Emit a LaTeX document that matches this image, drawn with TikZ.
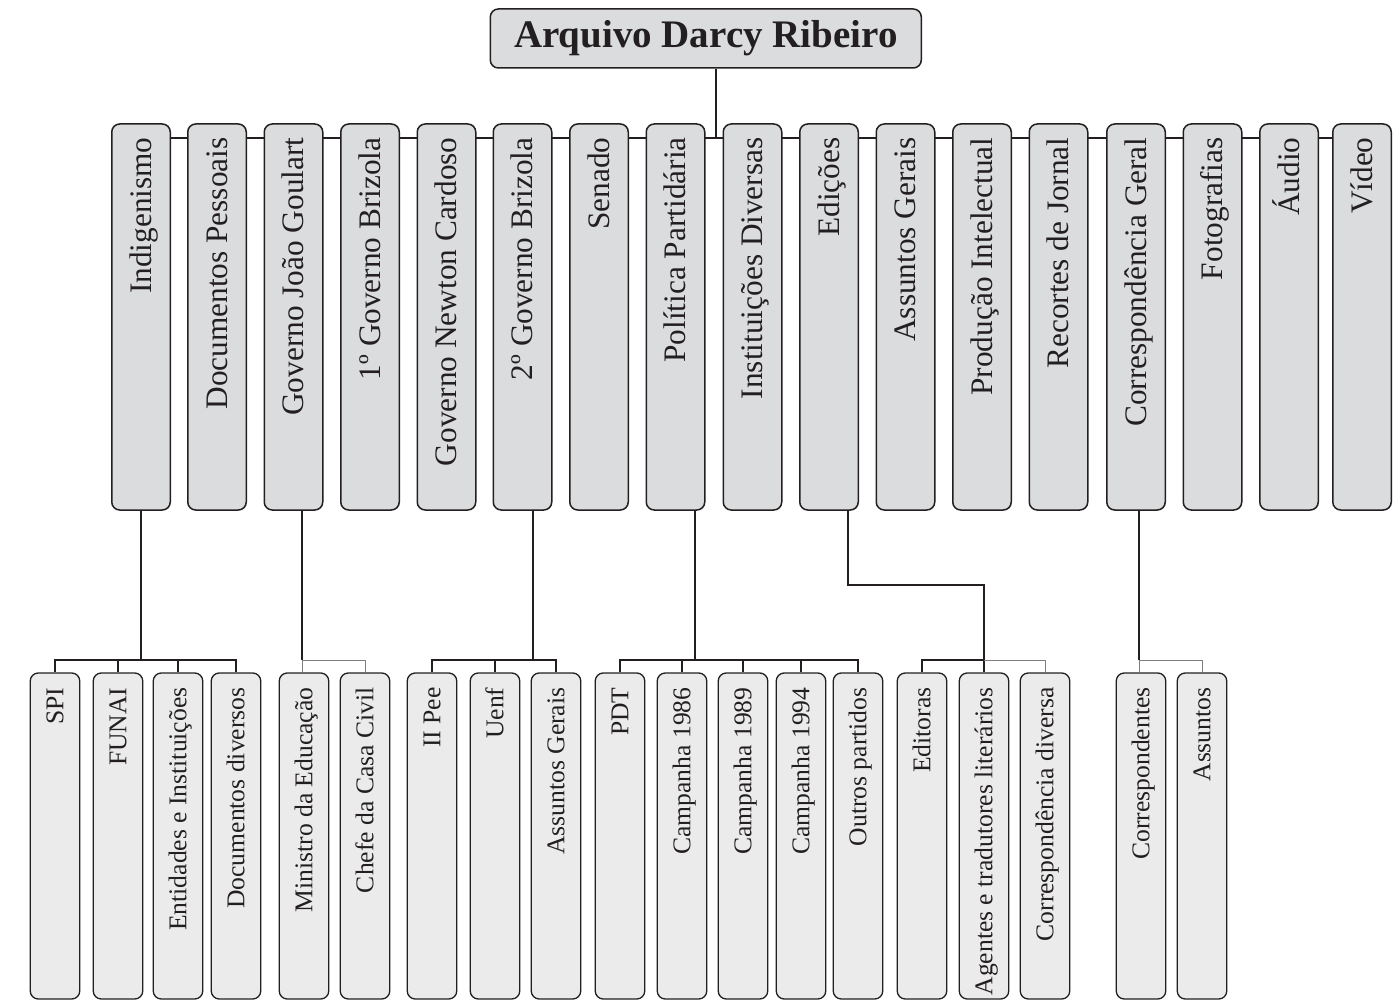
\documentclass[tikz,border=0pt]{standalone}
\usepackage{fontspec}
\setmainfont{Liberation Serif}
\usetikzlibrary{backgrounds}
\definecolor{ink}{HTML}{231F20}
\definecolor{boxA}{HTML}{DBDCDE}
\definecolor{boxB}{HTML}{EBEBEC}
\definecolor{thingray}{HTML}{7F7F7F}
\begin{document}
\begin{tikzpicture}[x=1pt,y=-1pt,
  topbox/.style={draw=ink, fill=boxA, line width=1.5pt, rounded corners=8pt, minimum width=431pt, minimum height=59pt, inner sep=0pt, font=\fontsize{39}{40}\selectfont\bfseries, text=ink},
  lvtwo/.style={draw=ink, fill=boxA, line width=1.5pt, rounded corners=8pt, minimum width=58.5pt, minimum height=386pt, inner sep=0pt},
  lvthree/.style={draw=ink, fill=boxB, line width=1.3pt, rounded corners=8pt, minimum width=49.5pt, minimum height=326pt, inner sep=0pt},
  txttwo/.style={rotate=90, anchor=east, inner sep=0pt, text height=20.7pt, text depth=0pt, font=\fontsize{31.3}{33}\selectfont, text=ink},
  txtthree/.style={rotate=90, anchor=east, inner sep=0pt, text height=16.9pt, text depth=0pt, font=\fontsize{25.6}{27}\selectfont, text=ink},
  link/.style={draw=ink, line width=1.8pt},
  thinlink/.style={draw=thingray, line width=1pt}]
\useasboundingbox (0,0) rectangle (1398,1000);

\node[topbox] (root) at (705.8,38.5) {Arquivo Darcy Ribeiro};

\foreach \i/\x/\t in {1/141/Indigenismo, 2/217/Documentos Pessoais, 3/293.5/Governo João Goulart,
  4/370/1º Governo Brizola, 5/446.5/Governo Newton Cardoso, 6/522.5/2º Governo Brizola,
  7/599/Senado, 8/675.5/Política Partidária, 9/752.5/Instituições Diversas, 10/829/Edições,
  11/905.5/Assuntos Gerais, 12/982/Produção Intelectual, 13/1058.5/Recortes de Jornal,
  14/1136/Correspondência Geral, 15/1212.5/Fotografias, 16/1289/Áudio, 17/1362/Vídeo}{
  \node[lvtwo] (b\i) at (\x,317) {};
  \node[txttwo] (t\i) at ([yshift=-14pt]b\i.north) {\t};
}

\foreach \i/\x/\t in {1/55/SPI, 2/118/FUNAI, 3/178/Entidades e Instituições, 4/236/Documentos diversos,
  5/304/Ministro da Educação, 6/365/Chefe da Casa Civil,
  7/432/II Pee, 8/495/Uenf, 9/556/Assuntos Gerais,
  10/620/PDT, 11/682/Campanha 1986, 12/743/Campanha 1989, 13/801/Campanha 1994, 14/858/Outros partidos,
  15/922/Editoras, 16/984/Agentes e tradutores literários, 17/1045/Correspondência diversa,
  18/1141/Correspondentes, 19/1202/Assuntos}{
  \node[lvthree] (c\i) at (\x,836) {};
  \node[txtthree] (u\i) at ([yshift=-15pt]c\i.north) {\t};
}

\begin{scope}[on background layer]
  \coordinate (hub) at (716,138);
  \coordinate (L3) at (0,660);
  \coordinate (E) at (0,585);
  \draw[link] (root.south -| hub) -- (hub);
  \draw[link] (b1.east |- hub) -- (b17.west |- hub);
  % Indigenismo
  \draw[link] (b1.south) -- (b1.south |- L3);
  \draw[link] (c1.north) -- (c1.north |- L3) -- (c4.north |- L3) -- (c4.north);
  \draw[link] (c2.north) -- (c2.north |- L3);
  \draw[link] (c3.north) -- (c3.north |- L3);
  % Goulart
  \coordinate (d3) at ([xshift=8.5pt]b3.south);
  \draw[link] (d3) -- (d3 |- L3);
  \draw[thinlink] (d3 |- L3) -- (d3 |- c5.north);
  \draw[thinlink] (d3 |- L3) -- (c6.north |- L3) -- (c6.north);
  % 2o Brizola
  \coordinate (d6) at ([xshift=10.5pt]b6.south);
  \draw[link] (d6) -- (d6 |- L3);
  \draw[link] (c7.north) -- (c7.north |- L3) -- (c9.north |- L3) -- (c9.north);
  \draw[link] (c8.north) -- (c8.north |- L3);
  % Politica
  \coordinate (d8) at ([xshift=19.5pt]b8.south);
  \draw[link] (d8) -- (d8 |- L3);
  \draw[link] (c10.north) -- (c10.north |- L3) -- (c14.north |- L3) -- (c14.north);
  \draw[link] (c11.north) -- (c11.north |- L3);
  \draw[link] (c12.north) -- (c12.north |- L3);
  \draw[link] (c13.north) -- (c13.north |- L3);
  % Edicoes
  \coordinate (d10) at ([xshift=19pt]b10.south);
  \draw[link] (d10) -- (d10 |- E) -- (c16.north |- E) -- (c16.north);
  \draw[link] (c15.north) -- (c15.north |- L3) -- (c16.north |- L3);
  \draw[thinlink] (c16.north |- L3) -- (c17.north |- L3) -- (c17.north);
  % Correspondencia
  \coordinate (d14) at ([xshift=3pt]b14.south);
  \draw[link] (d14) -- (d14 |- L3);
  \draw[thinlink] (d14 |- L3) -- (d14 |- c18.north);
  \draw[thinlink] (d14 |- L3) -- (c19.north |- L3) -- (c19.north);
\end{scope}
\end{tikzpicture}
\end{document}
